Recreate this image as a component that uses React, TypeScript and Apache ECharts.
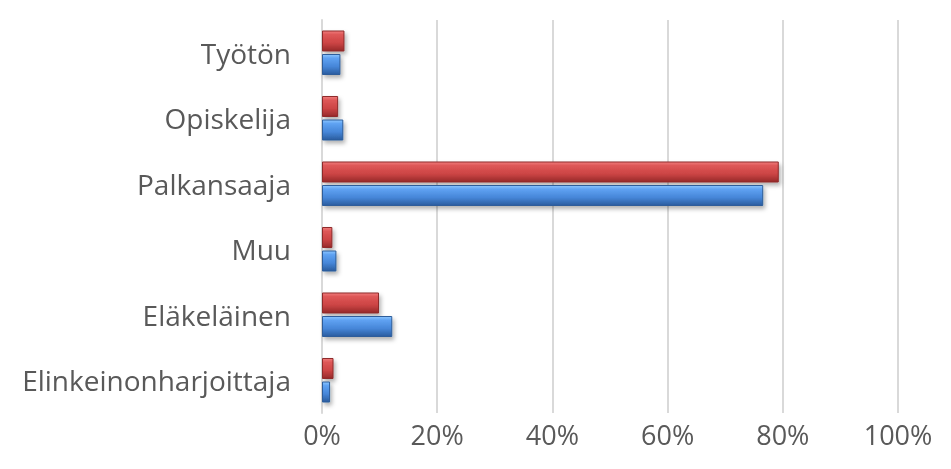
import React, { useEffect, useRef } from "react";
import * as echarts from "echarts";

const categories = ["Elinkeinonharjoittaja", "Eläkeläinen", "Muu", "Palkansaaja", "Opiskelija", "Työtön"];
const blueValues = [1.4, 12.2, 2.5, 76.6, 3.7, 3.2];
const redValues = [2.0, 9.9, 1.8, 79.3, 2.8, 3.9];
const xTicks = [0, 20, 40, 60, 80, 100];

const grad = (stops: [number, string][]) =>
  new echarts.graphic.LinearGradient(0, 0, 0, 1, stops.map(([offset, color]) => ({ offset, color })));

const FONT = "Open Sans";

export default function App() {
  const ref = useRef<HTMLDivElement>(null);
  useEffect(() => {
    if (!ref.current) return;
    const chart = echarts.init(ref.current, null, { renderer: "svg" });
    chart.setOption({
      animation: false,
      grid: { left: 322, right: 53, top: 20, bottom: 56, containLabel: false },
      xAxis: {
        type: "value",
        min: xTicks[0],
        max: xTicks[xTicks.length - 1],
        interval: 20,
        axisLine: { show: false },
        axisTick: { show: false },
        splitLine: { lineStyle: { color: "#d9d9d9", width: 2 } },
        axisLabel: { formatter: "{value}%", color: "#595959", fontSize: 27, fontFamily: FONT, margin: 8 },
      },
      yAxis: {
        type: "category",
        data: categories,
        axisLine: { lineStyle: { color: "#d9d9d9", width: 2 } },
        axisTick: { show: false },
        axisLabel: { color: "#595959", fontSize: 28, fontFamily: FONT, margin: 31 },
      },
      series: [
        {
          name: "Sarja 2",
          type: "bar",
          data: redValues,
          barWidth: 21,
          barGap: "12%",
          itemStyle: {
            color: grad([[0, "#f07c7c"], [0.18, "#de5858"], [0.6, "#cc4444"], [1, "#962a2a"]]),
            borderColor: "#8e2a2a",
            borderWidth: 1,
            shadowColor: "rgba(0,0,0,0.3)",
            shadowBlur: 4,
            shadowOffsetX: 2,
            shadowOffsetY: 3,
          },
        },
        {
          name: "Sarja 1",
          type: "bar",
          data: blueValues,
          barWidth: 21,
          barGap: "12%",
          itemStyle: {
            color: grad([[0, "#8cc6ff"], [0.18, "#5fa2f2"], [0.6, "#4686d8"], [1, "#2a5c9e"]]),
            borderColor: "#2d5d9a",
            borderWidth: 1,
            shadowColor: "rgba(0,0,0,0.3)",
            shadowBlur: 4,
            shadowOffsetX: 2,
            shadowOffsetY: 3,
          },
        },
      ],
    });
    return () => chart.dispose();
  }, []);
  return <div ref={ref} style={{ position: "fixed", left: 0, top: 0, width: 951, height: 469 }} />;
}
